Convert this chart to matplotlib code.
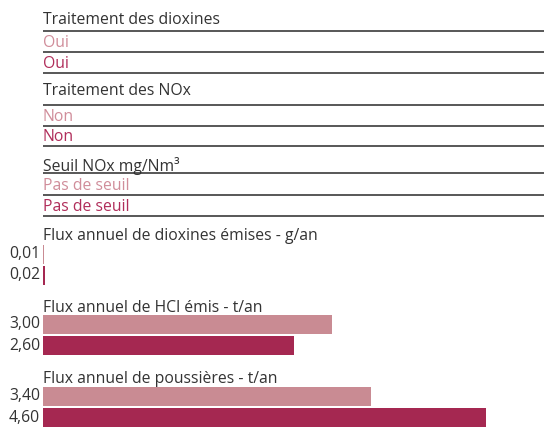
import matplotlib
matplotlib.use("Agg")
import matplotlib.pyplot as plt

# text rows (categorical answers)
text_titles = ["Traitement des dioxines", "Traitement des NOx", "Seuil NOx mg/Nm³"]
text_light = ["Oui", "Non", "Pas de seuil"]
text_dark = ["Oui", "Non", "Pas de seuil"]

# bar rows (numeric answers)
bar_titles = ["Flux annuel de dioxines émises - g/an",
              "Flux annuel de HCl émis - t/an",
              "Flux annuel de poussières - t/an"]
bar_light = [0.01, 3.00, 3.40]
bar_dark = [0.02, 2.60, 4.60]

light = "#c98b93"
dark = "#a52851"
txt_light = "#d08d9a"
txt_dark = "#b02d5a"
grey = "#333333"

plt.rcParams["font.family"] = ["Open Sans", "DejaVu Sans"]

fig = plt.figure(figsize=(5.44, 4.29), dpi=100)
ax = fig.add_axes([0, 0, 1, 1])
px = 96.4  # pixels per unit
x0 = 43
ax.set_xlim(-x0 / px, (544 - x0) / px)
ax.set_ylim(429, 0)
ax.axis("off")

fs = 11.3
# text blocks: title baseline, light baseline, dark baseline, lines
title_y = [24, 95, 171]
light_y = [47, 121, 190]
dark_y = [68, 141, 211]
line_y = [(31, 52, 73), (105, 126, 146), (173, 195, 216)]
for i in range(3):
    ax.text(0, title_y[i], text_titles[i], fontsize=fs, color=grey, va="baseline")
    ax.text(0, light_y[i], text_light[i], fontsize=fs, color=txt_light, va="baseline")
    ax.text(0, dark_y[i], text_dark[i], fontsize=fs, color=txt_dark, va="baseline")
    for y in line_y[i]:
        ax.plot([0, 10], [y, y], color="#4a4a4a", lw=1.3, solid_capstyle="butt")

# bar blocks
btitle_y = [240, 312, 383]
bl_y = [254, 324.5, 396.5]
bd_y = [275, 345.5, 417.5]
for i in range(3):
    ax.text(0, btitle_y[i], bar_titles[i], fontsize=fs, color=grey, va="baseline")
    ax.barh(bl_y[i], bar_light[i], height=19, color=light, lw=0)
    ax.barh(bd_y[i], bar_dark[i], height=19, color=dark, lw=0)
    ax.text(-3 / px, bl_y[i], f"{bar_light[i]:.2f}".replace(".", ","),
            fontsize=fs, color=grey, ha="right", va="center")
    ax.text(-3 / px, bd_y[i], f"{bar_dark[i]:.2f}".replace(".", ","),
            fontsize=fs, color=grey, ha="right", va="center")

fig.savefig("out.png", dpi=100)
